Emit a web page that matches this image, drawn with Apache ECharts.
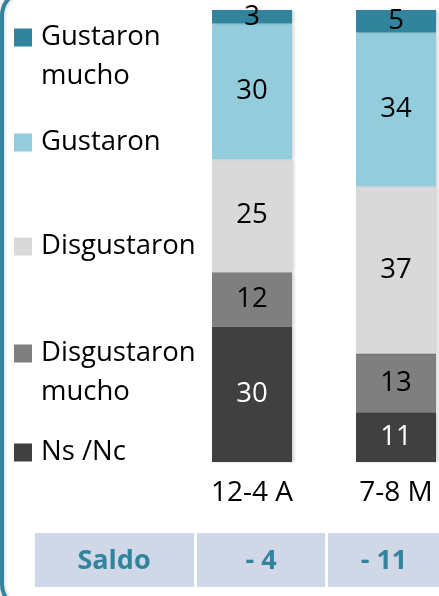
<!DOCTYPE html>
<html>
<head>
<meta charset="utf-8">
<script src="https://cdn.jsdelivr.net/npm/echarts@6/dist/echarts.min.js"></script>
<style>
html,body{margin:0;padding:0;background:#fff;}
#c{width:439px;height:596px;}
</style>
</head>
<body>
<div id="c"></div>
<script>
var categories = ['12-4 A', '7-8 M'];
var gustaronMucho = [3, 5];
var gustaron = [30, 34];
var disgustaron = [25, 37];
var disgustaronMucho = [12, 13];
var nsNc = [30, 11];
var saldoLabels = ['Saldo', '- 4', '- 11'];

var FONT = 'Open Sans';
var chart = echarts.init(document.getElementById('c'));

function bar(name, data, color, labelColor) {
  return {
    name: name, type: 'bar', stack: 'total', data: data, barWidth: 80,
    itemStyle: { color: color, shadowColor: 'rgba(0,0,0,0.18)', shadowBlur: 3, shadowOffsetX: 2 },
    label: { show: true, position: 'inside', color: labelColor, fontFamily: FONT, fontSize: 27.5 },
    emphasis: { disabled: true }
  };
}

function legendItem(name, top, twoLines) {
  return {
    data: [name], left: 14, top: top, padding: 0, orient: 'vertical',
    icon: 'rect', itemWidth: 18, itemHeight: 18, selectedMode: false,
    formatter: function (n) { return twoLines ? ' \n' + n.replace(' mucho', '\nmucho') : n; },
    textStyle: { fontFamily: FONT, fontSize: 27.5, color: '#000', lineHeight: 39,
      padding: [0, 0, 0, 4] }
  };
}

var cellFill = '#D0D8E8';
var teal = '#31849B';

chart.setOption({
  animation: false,
  grid: { left: 180, width: 288, top: 10, bottom: 134, outerBoundsMode: 'none' },
  xAxis: {
    type: 'category', data: categories,
    axisLine: { show: false }, axisTick: { show: false },
    axisLabel: { fontFamily: FONT, fontSize: 28, color: '#000', margin: 17 }
  },
  yAxis: { type: 'value', min: 0, max: 100, show: false },
  legend: [
    legendItem('Gustaron mucho', -21, true),
    legendItem('Gustaron', 123, false),
    legendItem('Disgustaron', 227, false),
    legendItem('Disgustaron mucho', 295, true),
    legendItem('Ns /Nc', 433, false)
  ],
  series: [
    bar('Ns /Nc', nsNc, '#404040', '#fff'),
    bar('Disgustaron mucho', disgustaronMucho, '#7F7F7F', '#000'),
    bar('Disgustaron', disgustaron, '#D9D9D9', '#000'),
    bar('Gustaron', gustaron, '#93CDDD', '#000'),
    bar('Gustaron mucho', gustaronMucho, '#31849B', '#000')
  ],
  graphic: [
    { type: 'rect', z: -1, shape: { x: 2, y: -10, width: 520, height: 620, r: 26 },
      style: { fill: 'none', stroke: teal, lineWidth: 4, shadowColor: 'rgba(0,0,0,0.25)', shadowBlur: 4 } },
    { type: 'rect', shape: { x: 35, y: 533, width: 159, height: 54 }, style: { fill: cellFill } },
    { type: 'rect', shape: { x: 197, y: 533, width: 128, height: 54 }, style: { fill: cellFill } },
    { type: 'rect', shape: { x: 328, y: 533, width: 120, height: 54 }, style: { fill: cellFill } },
    { type: 'text', x: 114, y: 561, style: { text: saldoLabels[0], fill: teal, font: 'bold 27px ' + FONT, align: 'center', verticalAlign: 'middle' } },
    { type: 'text', x: 261, y: 561, style: { text: saldoLabels[1], fill: teal, font: 'bold 27px ' + FONT, align: 'center', verticalAlign: 'middle' } },
    { type: 'text', x: 384, y: 561, style: { text: saldoLabels[2], fill: teal, font: 'bold 27px ' + FONT, align: 'center', verticalAlign: 'middle' } }
  ]
});
</script>
</body>
</html>
